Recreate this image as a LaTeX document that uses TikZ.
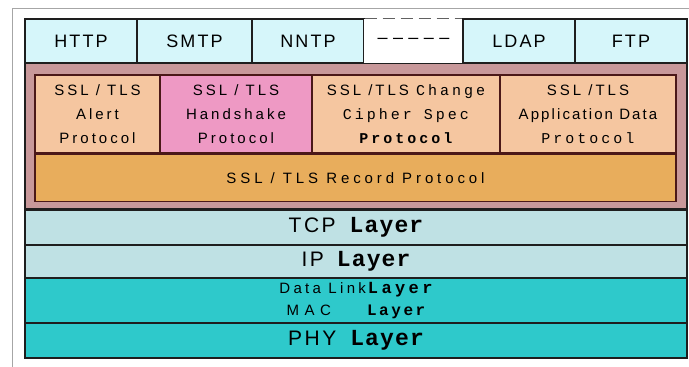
\documentclass[tikz,border=0pt]{standalone}
\usepackage{fontspec}
\setmainfont{Liberation Sans}
\newfontfamily\sansA{Liberation Sans}[LetterSpace=12]
\newfontfamily\sansB{Liberation Sans}[LetterSpace=20]
\newfontfamily\monoA{Liberation Mono}[LetterSpace=20]
\newfontfamily\monoB{Liberation Mono}[LetterSpace=5]
\definecolor{appc}{HTML}{D6F6FA}
\definecolor{sslband}{HTML}{C8989A}
\definecolor{peach}{HTML}{F5C6A0}
\definecolor{pinkc}{HTML}{EE99C4}
\definecolor{recc}{HTML}{E8AD5C}
\definecolor{tcpc}{HTML}{BFE1E4}
\definecolor{linkc}{HTML}{2EC9CB}
\definecolor{edge}{HTML}{1E1E1E}
\newcommand{\bigname}[1]{{\fontsize{21}{21}\sansA #1}}
\newcommand{\biglayer}{{\fontsize{23}{23}\monoB\bfseries Layer}}
\begin{document}
\begin{tikzpicture}[x=1pt,y=-1pt,
  cell/.style={draw=edge, line width=1.3pt, inner sep=0pt, align=center},
  appcell/.style={cell, fill=appc, minimum height=44pt},
  sslcell/.style={cell, draw=edge!80!red, minimum height=78pt},
  layercell/.style={cell, minimum width=662pt},
  apptext/.style={font=\fontsize{18}{18}\sansA},
  ssltext/.style={font=\fontsize{15}{24}\sansB}]
\useasboundingbox (0,0) rectangle (689,367);
\fill[white] (0,0) rectangle (689,367);
\draw[gray!70, line width=1pt] (12,367) -- (12,8) -- (689,8);

% SSL band
\node[cell, fill=sslband, minimum width=662pt, minimum height=146pt] (band) at (356,136) {};

% application row
\node[appcell, minimum width=112pt, apptext] (http) at (81,41) {HTTP};
\node[appcell, minimum width=115pt, apptext] (smtp) at (194.5,41) {SMTP};
\node[appcell, minimum width=112pt, apptext] (nntp) at (308,41) {NNTP};
\node[inner sep=0pt, fill=white, minimum width=99pt, minimum height=44pt,
      font=\fontsize{18}{18}\selectfont\addfontfeatures{LetterSpace=30}] (dots) at (413.5,41) {–––––};
\node[appcell, minimum width=112pt, apptext] (ldap) at (519,41) {LDAP};
\node[appcell, minimum width=112pt, apptext] (ftp) at (631,41) {FTP};
\draw[edge, line width=1.3pt] (dots.north west) -- (dots.south west) -- (dots.south east) -- (dots.north east);
\draw[edge!70, line width=1.3pt, dash pattern=on 12pt off 6pt] (nntp.north east) -- (ldap.north west);

% SSL / TLS protocols
\node[sslcell, fill=peach, minimum width=125pt, ssltext] (alert) at (97.5,114)
  {SSL / TLS\\Alert\\Protocol};
\node[sslcell, fill=pinkc, minimum width=152pt, ssltext] (hand) at (236,114)
  {SSL / TLS\\Handshake\\Protocol};
\node[sslcell, fill=peach, minimum width=188pt, ssltext] (ccs) at (406,114)
  {SSL /TLS {\monoA Change}\\{\monoA Cipher Spec}\\{\monoA\bfseries Protocol}};
\node[sslcell, fill=peach, minimum width=176pt, ssltext] (appd) at (588,114)
  {SSL /TLS\\{\addfontfeatures{LetterSpace=14}Application Data}\\{\monoA Protocol}};
\node[sslcell, fill=recc, minimum width=641pt, minimum height=47pt,
      font=\fontsize{15}{15}\sansB\addfontfeatures{LetterSpace=26}] (rec) at (355.5,178)
  {SSL / TLS Record Protocol};

% lower layers
\node[layercell, fill=tcpc, minimum height=35pt] (tcp) at (356,227.5)
  {\bigname{TCP}\hspace{14pt}\biglayer};
\node[layercell, fill=tcpc, minimum height=33pt] (ip) at (356,261.5)
  {\bigname{IP}\hspace{13pt}\biglayer};
\node[layercell, fill=linkc, minimum height=45pt, font=\fontsize{15}{22}\sansB] (link) at (356,300.5)
  {{\addfontfeatures{LetterSpace=22}Data Link}\hspace{2pt}{\fontsize{17}{22}\monoA\bfseries Layer}\\
   {\addfontfeatures{LetterSpace=37}MAC}\hspace{36pt}{\fontsize{16}{22}\monoA\addfontfeatures{LetterSpace=16}\bfseries Layer}};
\node[layercell, fill=linkc, minimum height=35pt] (phy) at (356,340.5)
  {\bigname{PHY}\hspace{14pt}\biglayer};
\draw[edge, line width=3pt] (band.south west) -- (band.south east);
\end{tikzpicture}
\end{document}
